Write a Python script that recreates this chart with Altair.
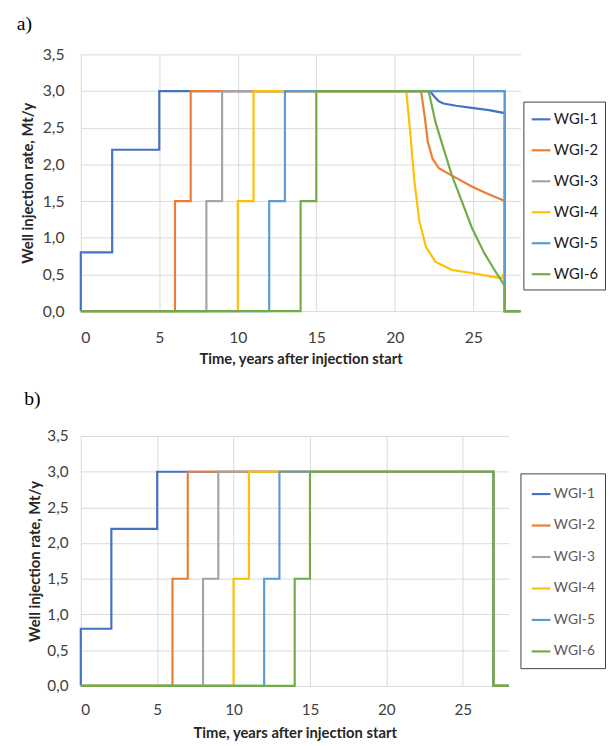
import altair as alt
import pandas as pd

series = ["WGI-1", "WGI-2", "WGI-3", "WGI-4", "WGI-5", "WGI-6"]
colors = ["#4472C4", "#ED7D31", "#A5A5A5", "#FFC000", "#5B9BD5", "#70AD47"]

# ---- panel a) vertices (time, rate) ----
a1_t = [0, 0, 2, 2, 5, 5, 22.23, 22.5, 22.8, 23.1, 23.9, 24.9, 26.0, 26.98, 27, 27, 28]
a1_v = [0, 0.8, 0.8, 2.2, 2.2, 3.0, 3.0, 2.93, 2.86, 2.83, 2.80, 2.77, 2.74, 2.70, 2.69, 0, 0]
a2_t = [0, 6, 6, 7, 7, 21.67, 21.9, 22.1, 22.4, 22.8, 23.7, 24.9, 25.9, 26.9, 27, 27, 28]
a2_v = [0, 0, 1.5, 1.5, 3.0, 3.0, 2.66, 2.31, 2.08, 1.95, 1.84, 1.70, 1.60, 1.51, 1.50, 0, 0]
a3_t = [0, 8, 8, 9, 9, 27, 27, 28]
a3_v = [0, 0, 1.5, 1.5, 3.0, 3.0, 0, 0]
a4_t = [0, 10, 10, 11, 11, 20.73, 20.98, 21.25, 21.56, 21.98, 22.6, 23.65, 24.9, 26.15, 26.8, 26.95, 27, 27, 28]
a4_v = [0, 0, 1.5, 1.5, 3.0, 3.0, 2.44, 1.77, 1.23, 0.875, 0.67, 0.56, 0.52, 0.47, 0.45, 0.52, 0.48, 0, 0]
a5_t = [0, 12, 12, 13, 13, 27, 27, 28]
a5_v = [0, 0, 1.5, 1.5, 3.0, 3.0, 0, 0]
a6_t = [0, 14, 14, 15, 15, 22.15, 22.6, 23.2, 23.65, 24.3, 24.9, 25.7, 26.35, 26.98, 27, 28]
a6_v = [0, 0, 1.5, 1.5, 3.0, 3.0, 2.57, 2.15, 1.84, 1.48, 1.14, 0.79, 0.56, 0.35, 0, 0]

# ---- panel b) vertices (time, rate) ----
b1_t = [0, 0, 2, 2, 5, 5, 27, 27, 28]
b1_v = [0, 0.8, 0.8, 2.2, 2.2, 3.0, 3.0, 0, 0]
b2_t = [0, 6, 6, 7, 7, 27, 27, 28]
b2_v = [0, 0, 1.5, 1.5, 3.0, 3.0, 0, 0]
b3_t = [0, 8, 8, 9, 9, 27, 27, 28]
b3_v = [0, 0, 1.5, 1.5, 3.0, 3.0, 0, 0]
b4_t = [0, 10, 10, 11, 11, 27, 27, 28]
b4_v = [0, 0, 1.5, 1.5, 3.0, 3.0, 0, 0]
b5_t = [0, 12, 12, 13, 13, 27, 27, 28]
b5_v = [0, 0, 1.5, 1.5, 3.0, 3.0, 0, 0]
b6_t = [0, 14, 14, 15, 15, 27, 27, 28]
b6_v = [0, 0, 1.5, 1.5, 3.0, 3.0, 0, 0]

x_ticks = [0, 5, 10, 15, 20, 25]
y_ticks = [0, 0.5, 1.0, 1.5, 2.0, 2.5, 3.0, 3.5]


def build(ts, vs):
    rows = []
    for name, t, v in zip(series, ts, vs):
        for i, (tt, vv) in enumerate(zip(t, v)):
            rows.append({"series": name, "t": tt, "v": vv, "i": i})
    return pd.DataFrame(rows)


df_a = build([a1_t, a2_t, a3_t, a4_t, a5_t, a6_t], [a1_v, a2_v, a3_v, a4_v, a5_v, a6_v])
df_b = build([b1_t, b2_t, b3_t, b4_t, b5_t, b6_t], [b1_v, b2_v, b3_v, b4_v, b5_v, b6_v])

FONT = "Lato"


def panel(df, label, w, h, lab_size, ypad, xpad, toff, leg, leg_label_color):
    return alt.Chart(df).mark_line(strokeWidth=2.2).encode(
        x=alt.X("t:Q", scale=alt.Scale(domain=[0, 28], nice=False, zero=False),
                axis=alt.Axis(values=x_ticks, title="Time, years after injection start",
                              labelFontSize=lab_size, labelPadding=xpad[0], titlePadding=xpad[1],
                              ticks=False, domain=False, grid=True, gridColor="#d9d9d9",
                              labelColor="#404040", titleColor="#262626",
                              titleFontSize=15, titleFontWeight="bold",
                              labelFont=FONT, titleFont=FONT)),
        y=alt.Y("v:Q", scale=alt.Scale(domain=[0, 3.5], nice=False),
                axis=alt.Axis(values=y_ticks, title="Well injection rate, Mt/y",
                              labelExpr="replace(format(datum.value, '.1f'), '.', ',')",
                              labelFontSize=lab_size, labelPadding=ypad[0], titlePadding=ypad[1],
                              ticks=False, domain=False, grid=True, gridColor="#d9d9d9",
                              labelColor="#404040", titleColor="#262626",
                              titleFontSize=15, titleFontWeight="bold",
                              labelFont=FONT, titleFont=FONT)),
        color=alt.Color("series:N", scale=alt.Scale(domain=series, range=colors),
                        legend=alt.Legend(title=None, orient="none",
                                          legendX=leg["x"], legendY=leg["y"],
                                          symbolType="stroke", symbolSize=leg["sym"] ** 2,
                                          symbolStrokeWidth=2.2, labelFont=FONT,
                                          labelFontSize=leg["fs"], labelColor=leg_label_color,
                                          labelOffset=2, rowPadding=leg["row"],
                                          padding=leg["pad"], strokeColor="#404040",
                                          fillColor="white")),
        order="i:Q",
    ).properties(
        width=w, height=h,
        title=alt.TitleParams(label, anchor="start", frame="bounds", font="Liberation Serif",
                              fontSize=20, fontWeight="normal", color="black",
                              offset=toff, dx=-4),
    )


chart_a = panel(df_a, "a)", 447, 261, 16, (17, 7), (19, 6), 13,
                {"x": 450, "y": 48, "sym": 19, "fs": 15, "row": 12.5, "pad": 7}, "#1a1a1a")
chart_b = panel(df_b, "b)", 435, 254, 15.5, (13, 4), (17, 8), 21,
                {"x": 447, "y": 38, "sym": 19, "fs": 14, "row": 14, "pad": 10}, "#595959")

chart = alt.vconcat(chart_a, chart_b, spacing=23).resolve_scale(
    color="independent").resolve_legend(color="independent").configure_view(
    stroke=None).properties(padding={"left": 8, "top": 0, "right": 0, "bottom": 0})

chart.save("out.html", embed_options={"renderer": "svg", "actions": False})
